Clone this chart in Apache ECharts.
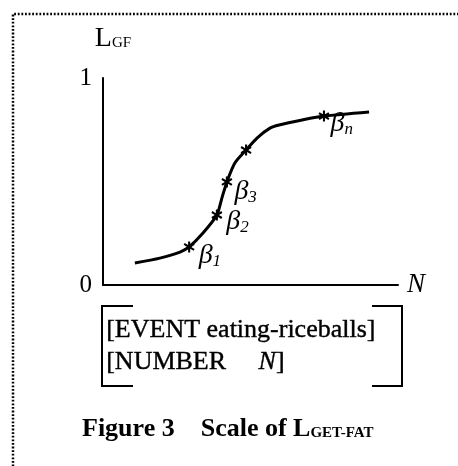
<!DOCTYPE html>
<html>
<head>
<meta charset="utf-8">
<script src="https://cdn.jsdelivr.net/npm/echarts@6/dist/echarts.min.js"></script>
<style>
  html, body { margin: 0; padding: 0; background: #fff; }
  #main { width: 458px; height: 466px; }
</style>
</head>
<body>
<div id="main"></div>
<script>
// curve of the scale, N vs L
var curveN = [1.08, 1.93, 2.61, 2.92, 3.39, 3.86, 4.03, 4.20, 4.47, 4.85, 5.22, 5.66, 5.97, 6.75, 7.49, 9.02];
var curveL = [0.106, 0.130, 0.159, 0.184, 0.251, 0.338, 0.420, 0.498, 0.589, 0.652, 0.710, 0.758, 0.773, 0.797, 0.816, 0.836];

// marked points (beta)
var markN = [2.92, 3.86, 4.20, 4.85, 7.49];
var markL = [0.184, 0.338, 0.498, 0.652, 0.816];
var markSub = ['1', '2', '3', '', 'n'];

var yTicks = [0, 1];

var serif = 'Liberation Serif';
var star = 'path://M-1,-5L1,-5L1,-1.7L4.3,-3.6L5.3,-1.9L2,0L5.3,1.9L4.3,3.6L1,1.7L1,5L-1,5L-1,1.7L-4.3,3.6L-5.3,1.9L-2,0L-5.3,-1.9L-4.3,-3.6L-1,-1.7Z';

var labelOffsets = [[0, 9], [0, 7], [-2, 10], [0, 0], [-3, 8]];

var curveData = curveN.map(function(n, i){ return [n, curveL[i]]; });
var markData = markN.map(function(n, i){
    var item = { value: [n, markL[i]] };
    if (markSub[i] !== '') {
        item.label = {
            show: true,
            position: 'right',
            distance: 4,
            offset: labelOffsets[i],
            formatter: '{b|β}{s|' + markSub[i] + '}'
        };
    }
    return item;
});

var chart = echarts.init(document.getElementById('main'));
chart.setOption({
    animation: false,
    backgroundColor: '#fff',
    grid: { left: 103, top: 78, width: 295, height: 207 },
    xAxis: {
        type: 'value', min: 0, max: 10,
        name: 'N', nameLocation: 'end', nameGap: 9,
        nameTextStyle: { fontFamily: serif, fontStyle: 'italic', fontSize: 27, color: '#000', verticalAlign: 'middle' },
        axisLine: { lineStyle: { color: '#000', width: 2 } },
        axisTick: { show: false },
        axisLabel: { show: false },
        splitLine: { show: false }
    },
    yAxis: {
        type: 'value', min: yTicks[0], max: yTicks[1], interval: 1,
        name: '{l|L}{s|GF}', nameLocation: 'end', nameGap: 25,
        nameTextStyle: {
            padding: [0, 0, 0, 20],
            rich: {
                l: { fontFamily: serif, fontSize: 28, color: '#000' },
                s: { fontFamily: serif, fontSize: 15, color: '#000', padding: [8, 0, 0, 0] }
            }
        },
        axisLine: { show: true, lineStyle: { color: '#000', width: 2 } },
        axisTick: { show: false },
        axisLabel: { fontFamily: serif, fontSize: 25, color: '#000', margin: 11 },
        splitLine: { show: false }
    },
    series: [
        {
            type: 'line',
            data: curveData,
            smooth: 0.25,
            showSymbol: false,
            lineStyle: { color: '#000', width: 3 }
        },
        {
            type: 'scatter',
            data: markData,
            symbol: star,
            symbolSize: 11,
            itemStyle: { color: '#000', opacity: 1 },
            label: {
                color: '#000',
                rich: {
                    b: { fontFamily: serif, fontStyle: 'italic', fontSize: 28, color: '#000' },
                    s: { fontFamily: serif, fontStyle: 'italic', fontSize: 17, color: '#000', padding: [11, 0, 0, 0] }
                }
            }
        }
    ],
    graphic: [
        { type: 'polyline', shape: { points: [[13, 470], [13, 14], [458, 14]] },
          style: { stroke: '#000', lineWidth: 2.5, lineDash: [1.8, 1.8], fill: null } },
        { type: 'polyline', shape: { points: [[133, 306], [102, 306], [102, 386], [133, 386]] },
          style: { stroke: '#000', lineWidth: 2, fill: null } },
        { type: 'polyline', shape: { points: [[372, 306], [402, 306], [402, 386], [372, 386]] },
          style: { stroke: '#000', lineWidth: 2, fill: null } },
        { type: 'text', left: 106, top: 317,
          style: { text: '[EVENT eating-riceballs]', font: '26px "Liberation Serif"', fill: '#000', stroke: '#000', lineWidth: 0.4 } },
        { type: 'text', left: 106, top: 349,
          style: {
              text: '{r|[NUMBER     }{i|N}{r|]}',
              stroke: '#000', lineWidth: 0.4,
              rich: {
                  r: { fontFamily: serif, fontSize: 26, fill: '#000' },
                  i: { fontFamily: serif, fontSize: 26, fontStyle: 'italic', fill: '#000' }
              }
          } },
        { type: 'text', left: 82, top: 416,
          style: {
              text: '{b|Figure 3    Scale of L}{s|GET-FAT}',
              rich: {
                  b: { fontFamily: serif, fontSize: 26, fontWeight: 'bold', fill: '#000' },
                  s: { fontFamily: serif, fontSize: 15, fontWeight: 'bold', fill: '#000', padding: [9, 0, 0, 0] }
              }
          } }
    ]
});
</script>
</body>
</html>
